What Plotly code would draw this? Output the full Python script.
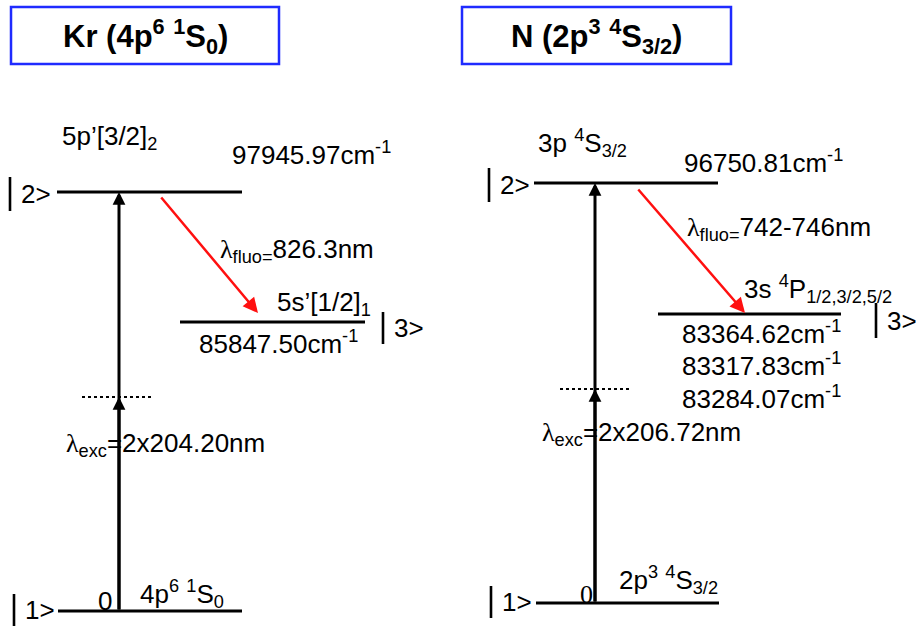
import plotly.graph_objects as go

# ---- spectroscopic data for the two two-photon LIF schemes ----
atoms = ["Kr", "N"]
ground_configs = ["4p<sup>6</sup> <sup>1</sup>S<sub>0</sub>", "2p<sup>3</sup> <sup>4</sup>S<sub>3/2</sub>"]
upper_terms = ["5p’[3/2]<sub>2</sub>", "3p <sup>4</sup>S<sub>3/2</sub>"]
lower_terms = ["5s’[1/2]<sub>1</sub>", "3s <sup>4</sup>P<sub>1/2,3/2,5/2</sub>"]
ground_energy = [0, 0]
upper_energy = [97945.97, 96750.81]          # cm-1
lower_energies = [[85847.50], [83364.62, 83317.83, 83284.07]]  # cm-1
exc_wavelength = ["204.20", "206.72"]        # nm (two photons)
fluo_wavelength = ["826.3", "742-746"]       # nm

# ---- schematic layout of each panel (pixel-like canvas units) ----
panels = [
    dict(box=(11, 7, 279, 64), ket_x=10, lvl1=(58, 242, 611), lvl2=(57, 242, 192),
         lvl3=(180, 365, 322), exc_x=119, virt=(82, 153, 397),
         fluo=((160, 196), (258, 313)), upper_lbl=(60, 137), upper_e=(230, 153),
         lower_lbl=(275, 303), lower_e=(197, 342, 32.5),
         ket3=(383, 312, 344), fluo_lbl=(218, 250), exc_lbl=(64, 444),
         zero=(96, 601), zero_font="Liberation Sans", ground_lbl=(138, 594)),
    dict(box=(462, 7, 731, 64), ket_x=489, lvl1=(536, 719, 603), lvl2=(534, 718, 183),
         lvl3=(658, 841, 314), exc_x=595, virt=(560, 630, 389),
         fluo=((637, 188), (745, 313)), upper_lbl=(536, 143), upper_e=(682, 161),
         lower_lbl=(742, 289), lower_e=(680, 332, 32.5),
         ket3=(876, 303, 338), fluo_lbl=(685, 228), exc_lbl=(540, 433),
         zero=(578, 594), zero_font="Liberation Serif", ground_lbl=(617, 580)),
]

FONT = "Liberation Sans"
FS = 26
LAM = '<span style="font-family:Liberation Serif">λ</span>'

fig = go.Figure()
shapes = []
annotations = []


def label(x, y, text, size=FS, family=FONT, xanchor="left", color="black"):
    annotations.append(dict(x=x, y=y, xref="x", yref="y", text=text, showarrow=False,
                            xanchor=xanchor, yanchor="middle",
                            font=dict(family=family, size=size, color=color)))


def level(x0, x1, y):
    fig.add_trace(go.Scatter(x=[x0, x1], y=[y, y], mode="lines",
                             line=dict(color="black", width=3), hoverinfo="skip",
                             showlegend=False))


def ket(xbar, y0, y1, n):
    shapes.append(dict(type="line", xref="x", yref="y", x0=xbar, x1=xbar, y0=y0, y1=y1,
                       line=dict(color="black", width=2.6)))
    label(xbar + 9, (y0 + y1) / 2, f"{n}>")


def arrow(tail, tip, color, width, size):
    annotations.append(dict(x=tip[0], y=tip[1], ax=tail[0], ay=tail[1],
                            xref="x", yref="y", axref="x", ayref="y", text="",
                            showarrow=True, arrowhead=2, arrowsize=size,
                            arrowwidth=width, arrowcolor=color, standoff=0))


for i, p in enumerate(panels):
    # title box
    bx0, by0, bx1, by1 = p["box"]
    shapes.append(dict(type="rect", xref="x", yref="y", x0=bx0, x1=bx1, y0=by0, y1=by1,
                       line=dict(color="#1f2bff", width=2.5), fillcolor="white"))
    title = f"<b>{atoms[i]} ({ground_configs[i]})</b>"
    label((bx0 + bx1) / 2, (by0 + by1) / 2 + 1, title, size=31, xanchor="center")

    # energy levels
    g0, g1, gy = p["lvl1"]
    u0, u1, uy = p["lvl2"]
    l0, l1, ly = p["lvl3"]
    level(g0, g1, gy)
    level(u0, u1, uy)
    level(l0, l1, ly)

    # ket labels
    ket(p["ket_x"], uy - 15, uy + 19, 2)
    ket(p["ket_x"] + (4 if i == 0 else 2), gy - 17, gy + 15, 1)
    kx, ky0, ky1 = p["ket3"]
    ket(kx, ky0, ky1, 3)

    # two-photon excitation through the virtual level
    vx0, vx1, vy = p["virt"]
    shapes.append(dict(type="line", xref="x", yref="y", x0=vx0, x1=vx1, y0=vy, y1=vy,
                       line=dict(color="black", width=2, dash="dot")))
    ex = p["exc_x"]
    arrow((ex, gy), (ex, uy), "black", 3, 0.85)
    arrow((ex, gy), (ex, vy), "black", 3, 0.85)

    # fluorescence
    arrow(p["fluo"][0], p["fluo"][1], "#ff1010", 2.5, 1.2)

    # text labels
    label(*p["upper_lbl"], upper_terms[i])
    label(*p["upper_e"], f"{upper_energy[i]:.2f}cm<sup>-1</sup>")
    label(*p["lower_lbl"], lower_terms[i])
    ex0, ey0, dy = p["lower_e"]
    for k, e in enumerate(lower_energies[i]):
        label(ex0, ey0 + k * dy, f"{e:.2f}cm<sup>-1</sup>")
    label(*p["fluo_lbl"], f"{LAM}<sub>fluo=</sub>{fluo_wavelength[i]}nm")
    label(*p["exc_lbl"], f"{LAM}<sub>exc</sub>=2x{exc_wavelength[i]}nm")
    label(*p["zero"], f"{ground_energy[i]}", family=p["zero_font"])
    label(*p["ground_lbl"], ground_configs[i])

fig.update_layout(
    width=916, height=626, margin=dict(l=0, r=0, t=0, b=0),
    paper_bgcolor="white", plot_bgcolor="white",
    xaxis=dict(range=[0, 916], visible=False, fixedrange=True),
    yaxis=dict(range=[626, 0], visible=False, fixedrange=True),
    shapes=shapes, annotations=annotations, showlegend=False,
)

fig.write_html("out.html")
